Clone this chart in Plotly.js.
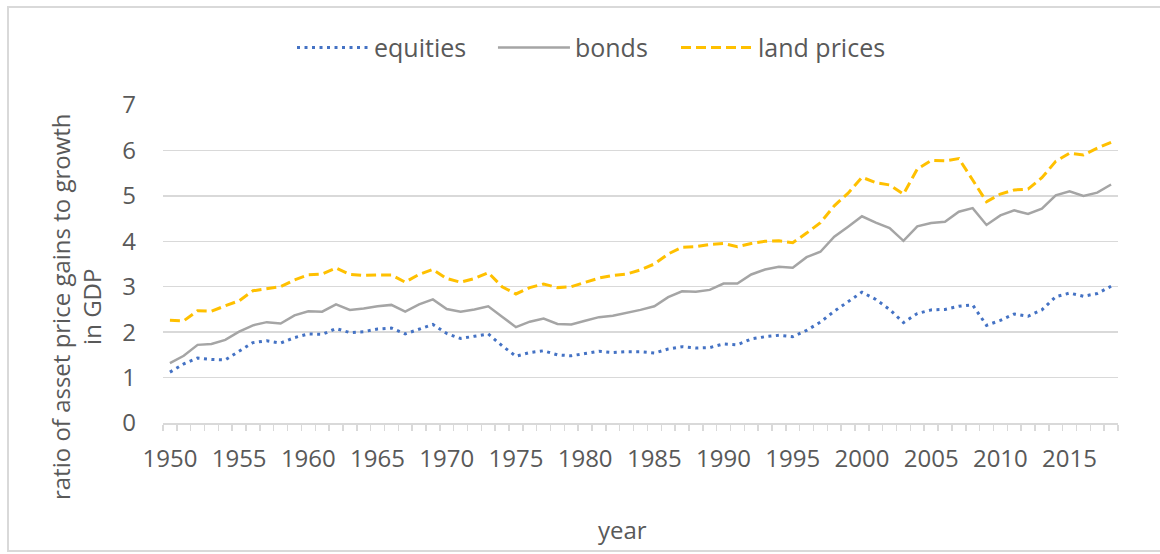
<!DOCTYPE html>
<html>
<head>
<meta charset="utf-8">
<script src="https://cdn.plot.ly/plotly-3.0.1.min.js"></script>
<style>
  html, body { margin: 0; padding: 0; background: #fff; }
  #wrap { position: relative; width: 1160px; height: 554px; overflow: hidden; }
  #chart { width: 1160px; height: 554px; }
  #frame { position: absolute; left: 7px; top: 6px; width: 1170px; height: 546px;
           border: 2px solid #d9d9d9; box-sizing: border-box; pointer-events: none; }
</style>
</head>
<body>
<div id="wrap">
  <div id="chart"></div>
  <div id="frame"></div>
</div>
<script>
const years = [1950,1951,1952,1953,1954,1955,1956,1957,1958,1959,
               1960,1961,1962,1963,1964,1965,1966,1967,1968,1969,
               1970,1971,1972,1973,1974,1975,1976,1977,1978,1979,
               1980,1981,1982,1983,1984,1985,1986,1987,1988,1989,
               1990,1991,1992,1993,1994,1995,1996,1997,1998,1999,
               2000,2001,2002,2003,2004,2005,2006,2007,2008,2009,
               2010,2011,2012,2013,2014,2015,2016,2017,2018];

const equities = [1.12,1.30,1.43,1.40,1.39,1.58,1.77,1.81,1.76,1.88,
                  1.96,1.95,2.08,1.99,2.01,2.07,2.09,1.96,2.07,2.17,
                  1.97,1.86,1.91,1.96,1.70,1.47,1.55,1.59,1.50,1.48,
                  1.53,1.58,1.55,1.57,1.57,1.54,1.63,1.68,1.65,1.66,
                  1.74,1.72,1.85,1.90,1.93,1.90,2.04,2.22,2.46,2.68,
                  2.88,2.72,2.50,2.21,2.41,2.49,2.50,2.57,2.60,2.15,
                  2.26,2.40,2.35,2.49,2.78,2.86,2.79,2.85,3.01];

const bonds = [1.32,1.48,1.72,1.74,1.83,2.01,2.15,2.22,2.19,2.37,
               2.46,2.45,2.61,2.49,2.52,2.57,2.60,2.45,2.61,2.72,
               2.51,2.45,2.50,2.57,2.34,2.11,2.23,2.30,2.18,2.17,
               2.25,2.33,2.36,2.42,2.49,2.57,2.77,2.90,2.89,2.93,
               3.07,3.07,3.27,3.38,3.44,3.42,3.65,3.77,4.10,4.32,
               4.55,4.41,4.29,4.01,4.33,4.40,4.43,4.65,4.73,4.36,
               4.57,4.68,4.60,4.72,5.01,5.10,5.00,5.07,5.25];

const landPrices = [2.26,2.25,2.47,2.46,2.58,2.69,2.91,2.96,3.00,3.15,
                    3.26,3.28,3.41,3.27,3.25,3.26,3.26,3.10,3.27,3.38,
                    3.18,3.10,3.18,3.31,3.00,2.84,2.98,3.06,2.98,3.00,
                    3.10,3.19,3.25,3.28,3.37,3.50,3.72,3.87,3.88,3.93,
                    3.95,3.88,3.95,4.00,4.01,3.97,4.18,4.41,4.78,5.06,
                    5.41,5.29,5.24,5.04,5.59,5.78,5.77,5.82,5.35,4.87,
                    5.04,5.13,5.15,5.40,5.76,5.94,5.90,6.05,6.18];

const tickYears = [1950,1955,1960,1965,1970,1975,1980,1985,1990,1995,2000,2005,2010,2015];
const tickLabels = ['1950','1955','1960','1965','1970','1975','1980','1985','1990','1995','2000','2005','2010','2015'];

const seriesNames = ['equities','bonds','land prices'];
const textColor = '#595959';
const gridColor = '#d9d9d9';
const fontFam = '"Open Sans", "Noto Sans", sans-serif';

const traces = [
  { x: years, y: equities, name: seriesNames[0], type: 'scatter', mode: 'lines', legend: 'legend',
    line: { color: '#4472C4', width: 3, dash: '3px,4.5px' } },
  { x: years, y: bonds, name: seriesNames[1], type: 'scatter', mode: 'lines', legend: 'legend2',
    line: { color: '#A5A5A5', width: 2.5 } },
  { x: years, y: landPrices, name: seriesNames[2], type: 'scatter', mode: 'lines', legend: 'legend3',
    line: { color: '#FFC000', width: 3, dash: '10px,5px' } }
];

function legendAt(xPaper) {
  return { orientation: 'h', x: xPaper, xanchor: 'left', y: 1.18, yanchor: 'middle',
           bgcolor: 'rgba(0,0,0,0)', borderwidth: 0,
           font: { size: 25, color: textColor, family: fontFam }, itemwidth: 72 };
}

const layout = {
  width: 1160, height: 554,
  margin: { l: 163, r: 42, t: 105, b: 131, pad: 0 },
  paper_bgcolor: '#ffffff', plot_bgcolor: '#ffffff',
  font: { family: fontFam, size: 24, color: textColor },
  showlegend: true,
  legend: legendAt(0.1351),
  legend2: legendAt(0.3455),
  legend3: legendAt(0.5372),
  xaxis: {
    range: [1949.5, 2018.5], tickmode: 'array', tickvals: tickYears, ticktext: tickLabels,
    ticks: '', showline: true, linecolor: gridColor, linewidth: 1.5,
    showgrid: false, zeroline: false, ticklabelstandoff: 14,
    tickfont: { size: 24, color: textColor },
    minor: { ticks: 'outside', ticklen: 6, tickwidth: 1.5, tickcolor: gridColor,
             tickmode: 'linear', tick0: 1949.5, dtick: 1, showgrid: false }
  },
  yaxis: {
    range: [0, 7], dtick: 1, tick0: 0, showgrid: true, gridcolor: gridColor, gridwidth: 1.5,
    showline: false, zeroline: false, ticks: '', ticklabelstandoff: 26,
    tickfont: { size: 24, color: textColor }
  },
  annotations: [
    { text: 'ratio of asset price gains to growth<br>in GDP', xref: 'paper', yref: 'paper',
      x: -0.091, y: 0.365, xanchor: 'center', yanchor: 'middle', textangle: -90,
      showarrow: false, font: { size: 24, color: textColor } },
    { text: 'year', xref: 'paper', yref: 'paper', x: 0.481, y: -0.336,
      xanchor: 'center', yanchor: 'middle', showarrow: false,
      font: { size: 24, color: textColor } }
  ]
};

Plotly.newPlot('chart', traces, layout, { displayModeBar: false, staticPlot: true });
</script>
</body>
</html>
